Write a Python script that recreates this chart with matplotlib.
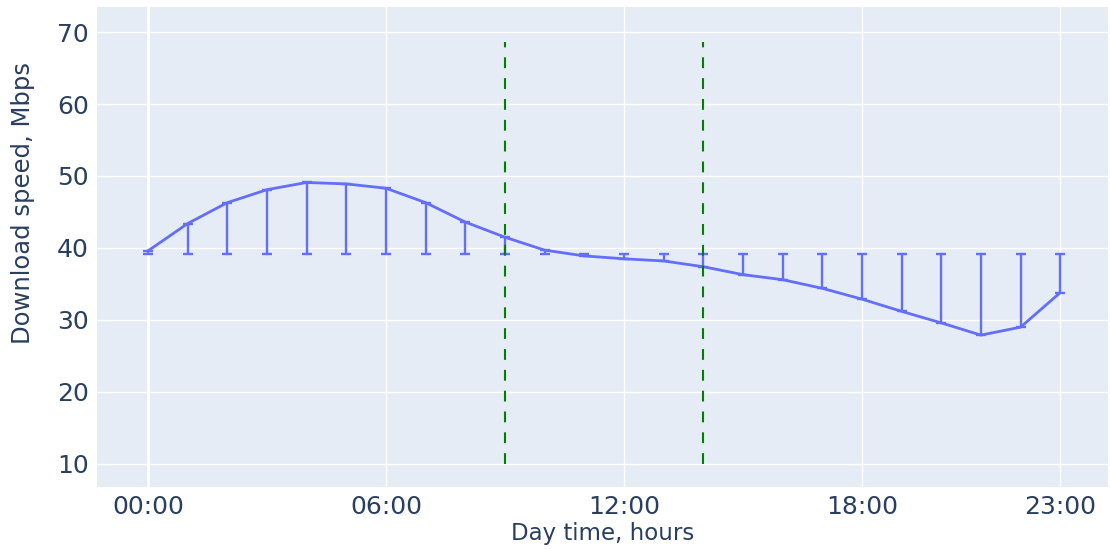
import numpy as np
import matplotlib
matplotlib.use('Agg')
import matplotlib.pyplot as plt

# hourly average download speed (Mbps)
hours = list(range(24))
speed = [39.6, 43.4, 46.3, 48.1, 49.1, 48.9, 48.3, 46.3, 43.6, 41.5,
         39.7, 38.9, 38.5, 38.2, 37.4, 36.3, 35.6, 34.4, 32.9, 31.2,
         29.6, 27.9, 29.0, 33.8]
overall_mean = 39.1
tick_hours = [0, 6, 12, 18, 23]
tick_labels = ['00:00', '06:00', '12:00', '18:00', '23:00']
marker_hours = [9, 14]
marker_span = [10, 68.6]

speed = np.array(speed)
err_low = np.clip(speed - overall_mean, 0, None)
err_high = np.clip(overall_mean - speed, 0, None)

text_color = '#2a3f5f'
plt.rcParams['font.family'] = ['DejaVu Sans']

fig = plt.figure(figsize=(11.1, 5.49), dpi=100)
ax = fig.add_axes([0.0874, 0.1129, 0.9106, 0.8743])
ax.set_facecolor('#E5ECF6')
for s in ax.spines.values():
    s.set_visible(False)

ax.set_xlim(-1.286, 24.2)
ax.set_ylim(6.8, 73.47)
ax.set_xticks(tick_hours)
ax.set_xticklabels(tick_labels)
ax.set_yticks([10, 20, 30, 40, 50, 60, 70])
ax.grid(True, color='white', linewidth=1)
ax.axvline(0, color='white', linewidth=2, zorder=1)
ax.set_axisbelow(True)
ax.tick_params(length=0, labelsize=18, colors=text_color, pad=6)

ax.errorbar(hours, speed, yerr=[err_low, err_high], color='#636EFA',
            linewidth=2.0, elinewidth=1.7, capsize=3.4, capthick=1.7, zorder=3)

for h in marker_hours:
    ln, = ax.plot([h, h], marker_span, color='green', linewidth=1.5, zorder=4)
    ln.set_dashes((5.2, 4.8))

ax.set_xlabel('Day time, hours', fontsize=16.5, color=text_color, labelpad=2)
ax.set_ylabel('Download speed, Mbps', fontsize=17.5, color=text_color)
ax.yaxis.set_label_coords(-0.061, 0.592)

fig.savefig('out.png', dpi=100)
